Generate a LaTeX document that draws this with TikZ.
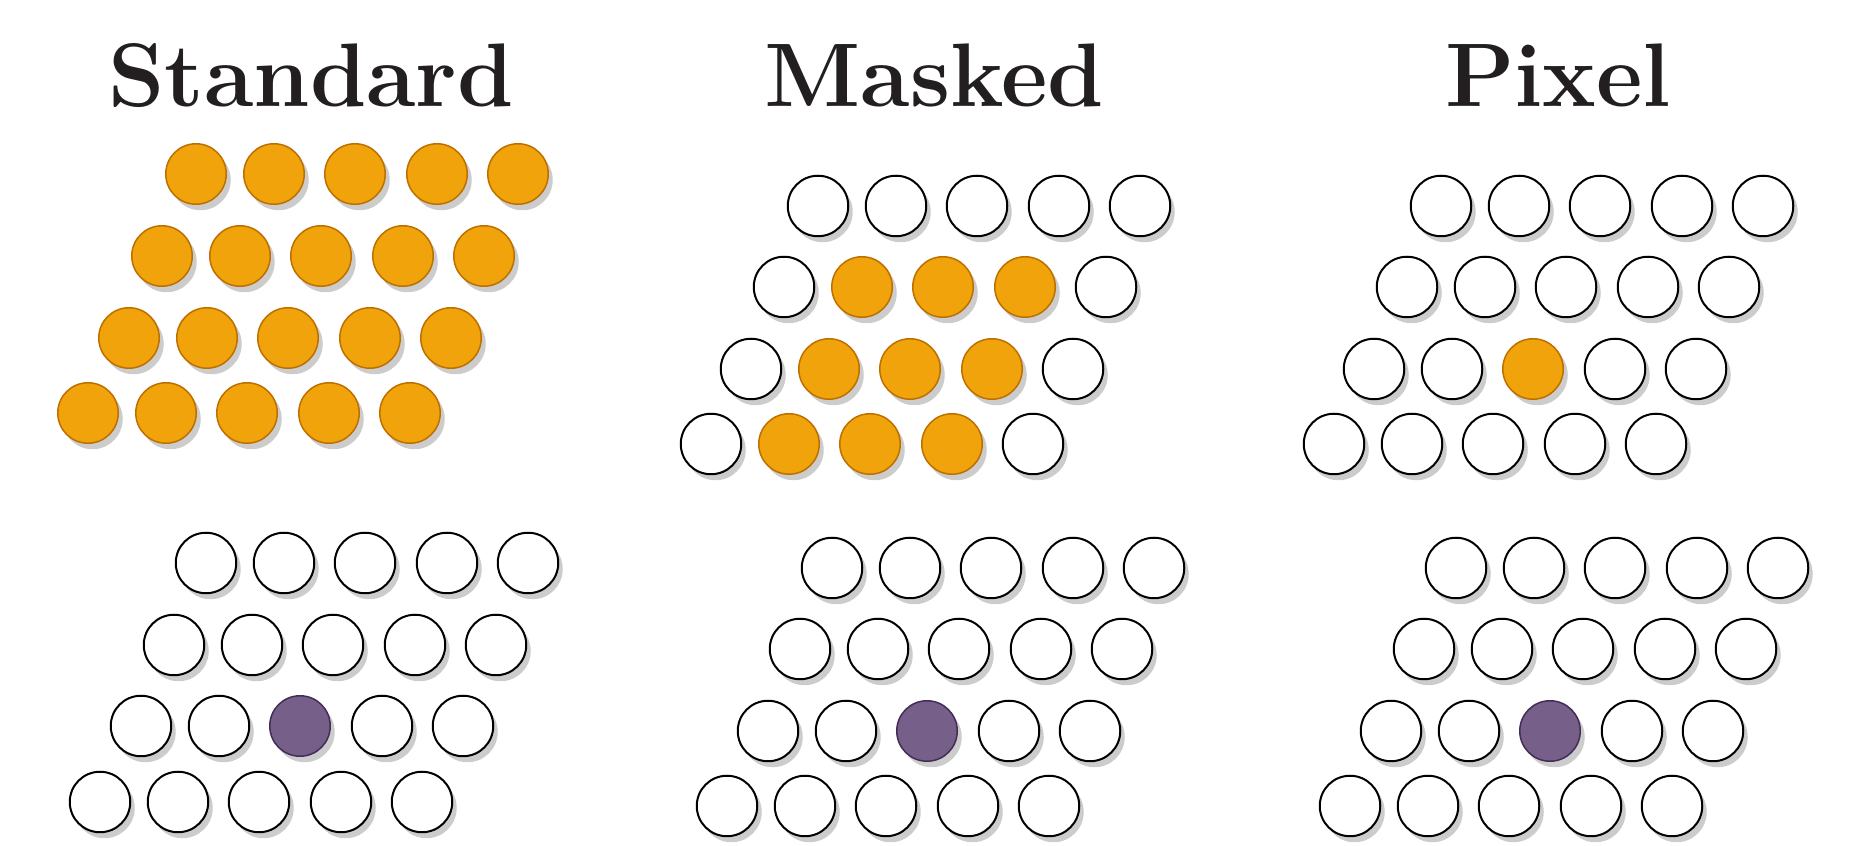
\documentclass[tikz,border=0pt]{standalone}
\usepackage{fontspec}
\usepackage{tikz}
\usetikzlibrary{shadows}
\definecolor{amber}{HTML}{F0A30A}
\definecolor{amberline}{HTML}{BD7000}
\definecolor{violet}{HTML}{76608A}
\definecolor{violetline}{HTML}{432D57}
\definecolor{ink}{HTML}{231F20}
\tikzset{
 cell/.style={circle,draw=black,line width=0.2mm,fill=white,inner sep=0pt,minimum size=6.05mm,
  drop shadow={shadow xshift=0.45mm,shadow yshift=-0.6mm,fill=black!20,opacity=1}},
 att/.style={fill=amber,draw=amberline,line width=0.15mm},
 qry/.style={fill=violet,draw=violetline,line width=0.15mm},
 head/.style={anchor=base,text=ink,font=\fontsize{25.7}{30}\selectfont\bfseries}
}
\newcommand\panel[3]{%
 \foreach \r/\x/\y in {#2}
  \foreach \c/\d in {1/0,2/78,3/159,4/241,5/322}{
   \pgfmathtruncatemacro\k{#3}
   \ifcase\k \def\sty{}\or\def\sty{att}\or\def\sty{qry}\fi
   \node[cell,\sty] (#1\r\c) at (\x+\d,\y) {};}}

\begin{document}
\begin{tikzpicture}[x=0.1mm,y=-0.1mm]
\useasboundingbox (0,0) rectangle (1863,846);
\node[head] (tstd) at (311,107) {Standard};
\node[head] (tmsk) at (934,107) {Masked};
\node[head] (tpix) at (1558,107) {Pixel};
\panel{st}{1/196/174,2/162/256,3/129/338,4/88/413}{1}
\panel{mt}{1/818/206,2/784/287,3/751/369,4/711/444}{(\r>1)*(\c>1)*(\c<5)}
\panel{pt}{1/1441/206,2/1407/287,3/1374/369,4/1334/444}{(\r==3)*(\c==3)}
\panel{sb}{1/206/563,2/174/645,3/141/726,4/100/802}{2*(\r==3)*(\c==3)}
\panel{mb}{1/832/568,2/800/649,3/768/731,4/727/806}{2*(\r==3)*(\c==3)}
\panel{pb}{1/1456/568,2/1424/649,3/1391/731,4/1350/806}{2*(\r==3)*(\c==3)}
\end{tikzpicture}
\end{document}
